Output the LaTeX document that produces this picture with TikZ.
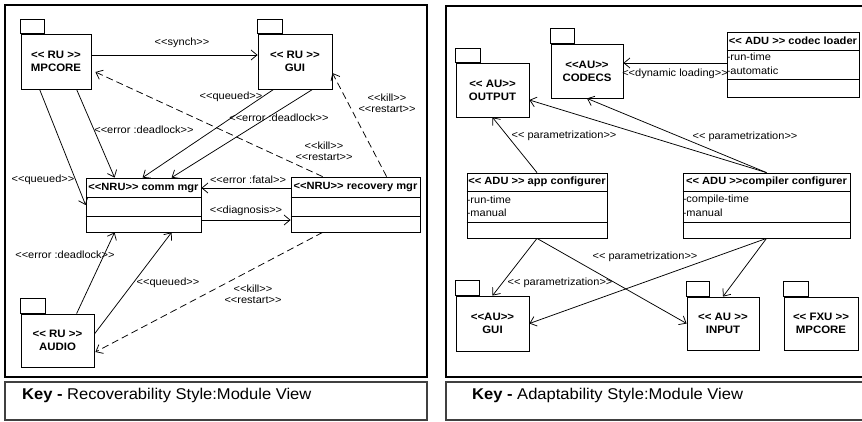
\documentclass[tikz,border=0pt]{standalone}
\usepackage{fontspec}
\setmainfont{Liberation Sans}[Ligatures=TeXOff, FakeStretch=1.06]
\usetikzlibrary{arrows.meta}

\begin{document}
\begin{tikzpicture}[x=1pt,y=-1pt,
  pkg/.style={draw, line width=0.8pt, inner sep=0pt, align=center,
    font=\fontsize{10.8}{13}\selectfont\bfseries},
  cls/.style={draw, line width=0.8pt, inner sep=0pt},
  hdr/.style={inner sep=0pt, font=\fontsize{10.5}{12}\selectfont\bfseries},
  attr/.style={inner sep=0pt, anchor=west, font=\fontsize{10.4}{12}\selectfont},
  lbl/.style={inner sep=0pt, align=center, font=\fontsize{10.4}{11}\selectfont},
  arr/.style={-{Straight Barb[length=6pt,width=10pt]}, line width=0.75pt},
  dsh/.style={arr, dash pattern=on 7pt off 4pt},
  frm/.style={draw, line width=1.1pt},
  keyt/.style={inner sep=0pt, anchor=west, font=\fontsize{15.6}{18}\selectfont}
]
\useasboundingbox (0,0) rectangle (862,421);

% ---------------- frames ----------------
\draw[frm] (5,5) rectangle (427,377);
\draw[frm, draw=black!75] (5,382) rectangle (427,420);
\draw[frm] (862,6) -- (446,6) -- (446,377) -- (862,377);
\draw[frm, draw=black!75] (862,382) -- (446,382) -- (446,420) -- (862,420);

\node[keyt] (keyL) at (22,395) {\textbf{Key -} Recoverability Style:Module View};
\node[keyt] (keyR) at (472,395) {\textbf{Key -} Adaptability Style:Module View};

% ---------------- recoverability view ----------------
\node[pkg, minimum width=70, minimum height=55] (mpL) at (56,61.5) {<< RU >>\\MPCORE};
\draw[line width=0.8pt] (mpL.north west) rectangle ++(24,-14);
\node[pkg, minimum width=74, minimum height=55] (guiL) at (295,61.5) {<< RU >>\\GUI};
\draw[line width=0.8pt] (guiL.north west) rectangle ++(25,-14);
\node[pkg, minimum width=73, minimum height=53] (audio) at (57.5,340.5) {<< RU >>\\AUDIO};
\draw[line width=0.8pt] (audio.north west) rectangle ++(25,-15);

\node[cls, minimum width=115, minimum height=54] (cm) at (143.5,205) {};
\draw[line width=0.8pt] ([yshift=-20pt]cm.north west) -- ([yshift=-20pt]cm.north east);
\draw[line width=0.8pt] ([yshift=16pt]cm.south west) -- ([yshift=16pt]cm.south east);
\node[hdr] (cmh) at ([yshift=-10pt]cm.north) {<<NRU>> comm mgr};

\node[cls, minimum width=129, minimum height=55] (rm) at (355.5,204.5) {};
\draw[line width=0.8pt] ([yshift=-21pt]rm.north west) -- ([yshift=-21pt]rm.north east);
\draw[line width=0.8pt] ([yshift=16.5pt]rm.south west) -- ([yshift=16.5pt]rm.south east);
\node[hdr] (rmh) at ([yshift=-10.5pt]rm.north) {<<NRU>> recovery mgr};

% connectors
\draw[arr] ([yshift=6.5pt]mpL.east) -- ([yshift=6.5pt]guiL.west);
\node[lbl] (l1) at (182,43) {<<synch>>};

\draw[arr] ([xshift=56pt]mpL.south west) -- ([xshift=29pt]cm.north west);
\node[lbl] (l2) at (144,130) {<<error :deadlock>>};

\draw[arr] ([xshift=19pt]mpL.south west) -- (cm.west);
\node[lbl] (l3) at (43,180) {<<queued>>};

\draw[arr] ([xshift=16pt]guiL.south west) -- ([xshift=57pt]cm.north west);
\node[lbl] (l4) at (231,97) {<<queued>>};

\draw[arr] ([xshift=55pt]guiL.south west) -- ([xshift=86pt]cm.north west);
\node[lbl] (l5) at (279,118) {<<error :deadlock>>};

\draw[dsh] ([xshift=32pt]rm.north west) -- ([shift={(4pt,-10.5pt)}]mpL.east);
\node[lbl] (l6) at (324,151) {<<kill>>\\<<restart>>};

\draw[dsh] ([xshift=96pt]rm.north west) -- ([yshift=-11.5pt]guiL.east);
\node[lbl] (l7) at (387,103) {<<kill>>\\<<restart>>};

\draw[arr] ([yshift=16.5pt]rm.west) -- ([yshift=17pt]cm.east);
\node[lbl] (l8) at (248,180) {<<error :fatal>>};

\draw[arr] ([yshift=-15pt]cm.east) -- ([yshift=-15.5pt]rm.west);
\node[lbl] (l9) at (246,211) {<<diagnosis>>};

\draw[arr] ([xshift=56pt]audio.north west) -- ([xshift=29pt]cm.south west);
\node[lbl] (l10) at (65,255) {<<error :deadlock>>};

\draw[arr] ([yshift=6.5pt]audio.east) -- ([xshift=86pt]cm.south west);
\node[lbl] (l11) at (168,283) {<<queued>>};

\draw[dsh] ([xshift=32pt]rm.south west) -- ([shift={(1pt,-11.5pt)}]audio.east);
\node[lbl] (l12) at (253,294.5) {<<kill>>\\<<restart>>};

% ---------------- adaptability view ----------------
\node[pkg, minimum width=72, minimum height=54] (codecs) at (587,71) {<<AU>>\\CODECS};
\draw[line width=0.8pt] (codecs.north west) rectangle ++(24,-15);
\node[pkg, minimum width=73, minimum height=54] (output) at (492.5,90) {<< AU>>\\OUTPUT};
\draw[line width=0.8pt] (output.north west) rectangle ++(25,-14);
\node[pkg, minimum width=73, minimum height=55] (guiR) at (492.5,323.5) {<<AU>>\\GUI};
\draw[line width=0.8pt] (guiR.north west) rectangle ++(24,-15);
\node[pkg, minimum width=72, minimum height=53] (input) at (723,323.5) {<< AU >>\\INPUT};
\draw[line width=0.8pt] (input.north west) rectangle ++(23,-15);
\node[pkg, minimum width=74, minimum height=53] (fxu) at (821,323.5) {<< FXU >>\\MPCORE};
\draw[line width=0.8pt] (fxu.north west) rectangle ++(25,-15);

\node[cls, minimum width=132, minimum height=65] (cl) at (793,64.5) {};
\draw[line width=0.8pt] ([yshift=-19pt]cl.north west) -- ([yshift=-19pt]cl.north east);
\draw[line width=0.8pt] ([yshift=18pt]cl.south west) -- ([yshift=18pt]cl.south east);
\node[hdr] (clh) at ([yshift=-9.5pt]cl.north) {<< ADU >> codec loader};
\node[attr] (cla1) at ([yshift=-25.5pt]cl.north west) {-run-time};
\node[attr] (cla2) at ([yshift=-39pt]cl.north west) {-automatic};

\node[cls, minimum width=140, minimum height=65] (ac) at (537,205.5) {};
\draw[line width=0.8pt] ([yshift=-19pt]ac.north west) -- ([yshift=-19pt]ac.north east);
\draw[line width=0.8pt] ([yshift=16pt]ac.south west) -- ([yshift=16pt]ac.south east);
\node[hdr] (ach) at ([yshift=-9.5pt]ac.north) {<< ADU >> app configurer};
\node[attr] (aca1) at ([yshift=-27pt]ac.north west) {-run-time};
\node[attr] (aca2) at ([yshift=-40pt]ac.north west) {-manual};

\node[cls, minimum width=167, minimum height=65] (cc) at (766.5,205.5) {};
\draw[line width=0.8pt] ([yshift=-19pt]cc.north west) -- ([yshift=-19pt]cc.north east);
\draw[line width=0.8pt] ([yshift=16pt]cc.south west) -- ([yshift=16pt]cc.south east);
\node[hdr] (cch) at ([yshift=-9.5pt]cc.north) {<< ADU >>compiler configurer};
\node[attr] (cca1) at ([yshift=-27pt]cc.north west) {-compile-time};
\node[attr] (cca2) at ([yshift=-40pt]cc.north west) {-manual};

% connectors
\draw[arr] ([yshift=1.5pt]cl.west) -- ([yshift=8pt]codecs.east);
\node[lbl] (r1) at (675,74) {<<dynamic loading>>};

\draw[arr] (cc.north) -- ([yshift=-10pt]output.east);
\draw[arr] (cc.north) -- (codecs.south);
\node[lbl] (r2) at (745,137) {<< parametrization>>};

\draw[arr] (ac.north) -- (output.south);
\node[lbl] (r3) at (564,136) {<< parametrization>>};

\draw[arr] (ac.south) -- (guiR.north);
\draw[arr] (cc.south) -- (guiR.east);
\draw[arr] (ac.south) -- (input.west);
\draw[arr] (cc.south) -- (input.north);
\node[lbl] (r4) at (560,283) {<< parametrization>>};
\node[lbl] (r5) at (645,257) {<< parametrization>>};

\end{tikzpicture}
\end{document}
